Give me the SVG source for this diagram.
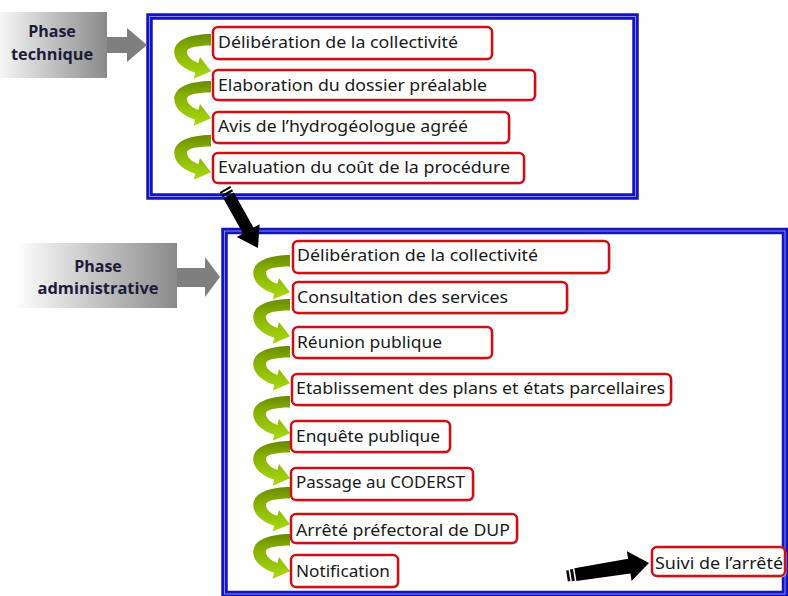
<svg xmlns="http://www.w3.org/2000/svg" xmlns:xlink="http://www.w3.org/1999/xlink" width="788" height="596" viewBox="0 0 788 596">
<style>
.frame{fill:none;stroke:#1414c4;stroke-width:6.5}
.frameIn{fill:none;stroke:#8a8ae6;stroke-width:1}
.box{fill:#ffffff;stroke:#cc1016;stroke-width:2.5}
.shadow{fill:#c8c8c8}
.lbl{font-family:"Noto Sans","Open Sans",sans-serif;font-size:15.5px;font-weight:400;fill:#1a1a1a}
.phase{font-family:"Open Sans","Noto Sans",sans-serif;font-size:16px;font-weight:bold;fill:#1c1c3a;text-anchor:middle}
.garrow{fill:url(#green)}
.barrow{fill:#000000}
.grey{fill:#7f7f7f}
</style>
<defs>
<linearGradient id="green" x1="0" y1="0" x2="0" y2="1">
<stop offset="0" stop-color="#6a8a00"/>
<stop offset="0.3" stop-color="#84ad00"/>
<stop offset="1" stop-color="#a8da12"/>
</linearGradient>
<linearGradient id="phaseT" x1="0" y1="0" x2="1" y2="0">
<stop offset="0" stop-color="#f6f6f6"/>
<stop offset="1" stop-color="#8a8a8a"/>
</linearGradient>
<linearGradient id="phaseA" x1="0" y1="0" x2="1" y2="0">
<stop offset="0" stop-color="#ffffff"/>
<stop offset="1" stop-color="#8a8a8a"/>
</linearGradient>
<path id="gshape" d="M0,0 C-20,0 -35,6 -35,17 C-35,27 -25,34 -15,37 L-16.5,42.5 L0,35.5 L-10.5,22 L-12,27.5 C-18,26 -23,21 -23,17 C-23,13 -14,11 0,11 Z"/>
</defs>
<rect width="788" height="596" fill="#ffffff"/>

<g id="phase-technique">
<rect x="0" y="12" width="107" height="66" fill="url(#phaseT)"/>
<text class="phase" x="52" y="37">Phase</text>
<text class="phase" x="52" y="60" textLength="82" lengthAdjust="spacingAndGlyphs">technique</text>
</g>
<g id="phase-administrative">
<rect x="15" y="243" width="162" height="65" fill="url(#phaseA)"/>
<text class="phase" x="98" y="272">Phase</text>
<text class="phase" x="98" y="294" textLength="121" lengthAdjust="spacingAndGlyphs">administrative</text>
</g>

<g id="frame-technique">
<rect class="frame" x="149.5" y="16.5" width="486" height="180"/>
<rect class="frameIn" x="149.5" y="16.5" width="486" height="180"/>
</g>
<g id="frame-administrative">
<rect class="frame" x="224.5" y="231" width="560.5" height="363"/>
<rect class="frameIn" x="224.5" y="231" width="560.5" height="363"/>
</g>

<g id="connectors">
<polygon class="grey" points="107,37 127,37 127,28 147,45 127,62 127,53 107,53"/>
<polygon class="grey" points="177,268 205,268 205,257 220,277 205,297 205,287 177,287"/>
<use class="garrow" xlink:href="#gshape" transform="translate(211,34) scale(1.05)"/>
<use class="garrow" xlink:href="#gshape" transform="translate(211,81) scale(1.05)"/>
<use class="garrow" xlink:href="#gshape" transform="translate(211,135) scale(1.05)"/>
<use class="garrow" xlink:href="#gshape" transform="translate(290,255) scale(1.05)"/>
<use class="garrow" xlink:href="#gshape" transform="translate(290,299) scale(1.05)"/>
<use class="garrow" xlink:href="#gshape" transform="translate(290,346) scale(1.05)"/>
<use class="garrow" xlink:href="#gshape" transform="translate(290,396) scale(1.05)"/>
<use class="garrow" xlink:href="#gshape" transform="translate(290,441) scale(1.05)"/>
<use class="garrow" xlink:href="#gshape" transform="translate(290,487) scale(1.05)"/>
<use class="garrow" xlink:href="#gshape" transform="translate(290,534) scale(1.05)"/>
</g>

<g id="t1"><rect class="shadow" x="214.5" y="28.5" width="279" height="32" rx="5"/><rect class="box" x="213" y="27" width="279" height="32" rx="5"/><text class="lbl" x="218" y="48" textLength="240" lengthAdjust="spacingAndGlyphs">Délibération de la collectivité</text></g>
<g id="t2"><rect class="shadow" x="214.5" y="71.5" width="322" height="30" rx="5"/><rect class="box" x="213" y="70" width="322" height="30" rx="5"/><text class="lbl" x="218" y="91" textLength="269" lengthAdjust="spacingAndGlyphs">Elaboration du dossier préalable</text></g>
<g id="t3"><rect class="shadow" x="214.5" y="113.5" width="296" height="31" rx="5"/><rect class="box" x="213" y="112" width="296" height="31" rx="5"/><text class="lbl" x="218" y="132" textLength="250" lengthAdjust="spacingAndGlyphs">Avis de l’hydrogéologue agréé</text></g>
<g id="t4"><rect class="shadow" x="214.5" y="154.5" width="311" height="30" rx="5"/><rect class="box" x="213" y="153" width="311" height="30" rx="5"/><text class="lbl" x="218" y="173" textLength="292" lengthAdjust="spacingAndGlyphs">Evaluation du coût de la procédure</text></g>

<g id="a1"><rect class="shadow" x="294.5" y="242.5" width="316" height="32" rx="5"/><rect class="box" x="293" y="241" width="316" height="32" rx="5"/><text class="lbl" x="297" y="261" textLength="241" lengthAdjust="spacingAndGlyphs">Délibération de la collectivité</text></g>
<g id="a2"><rect class="shadow" x="294.5" y="283.5" width="274" height="31" rx="5"/><rect class="box" x="293" y="282" width="274" height="31" rx="5"/><text class="lbl" x="297" y="303" textLength="211" lengthAdjust="spacingAndGlyphs">Consultation  des services</text></g>
<g id="a3"><rect class="shadow" x="294.5" y="328.5" width="199" height="31" rx="5"/><rect class="box" x="293" y="327" width="199" height="31" rx="5"/><text class="lbl" x="297" y="348" textLength="145" lengthAdjust="spacingAndGlyphs">Réunion publique</text></g>
<g id="a4"><rect class="shadow" x="293.5" y="375.5" width="379" height="31" rx="5"/><rect class="box" x="292" y="374" width="379" height="31" rx="5"/><text class="lbl" x="296" y="394" textLength="369" lengthAdjust="spacingAndGlyphs">Etablissement des plans et états parcellaires</text></g>
<g id="a5"><rect class="shadow" x="292.5" y="422.5" width="159" height="31" rx="5"/><rect class="box" x="291" y="421" width="159" height="31" rx="5"/><text class="lbl" x="296" y="442" textLength="144" lengthAdjust="spacingAndGlyphs">Enquête publique</text></g>
<g id="a6"><rect class="shadow" x="292.5" y="469.5" width="182" height="32" rx="5"/><rect class="box" x="291" y="468" width="182" height="32" rx="5"/><text class="lbl" x="296" y="488" textLength="169" lengthAdjust="spacingAndGlyphs">Passage au CODERST</text></g>
<g id="a7"><rect class="shadow" x="292.5" y="515.5" width="226" height="29" rx="5"/><rect class="box" x="291" y="514" width="226" height="29" rx="5"/><text class="lbl" x="296" y="536" textLength="214" lengthAdjust="spacingAndGlyphs">Arrêté préfectoral de DUP</text></g>
<g id="a8"><rect class="shadow" x="292.5" y="556.5" width="107" height="32" rx="5"/><rect class="box" x="291" y="555" width="107" height="32" rx="5"/><text class="lbl" x="296" y="577" textLength="94" lengthAdjust="spacingAndGlyphs">Notification</text></g>
<g id="suivi"><rect class="shadow" x="653.5" y="548.5" width="133" height="29" rx="5"/><rect class="box" x="652" y="547" width="133" height="29" rx="5"/><text class="lbl" x="655" y="569" textLength="128" lengthAdjust="spacingAndGlyphs">Suivi de l’arrêté</text></g>

<g id="black-arrows">
<g transform="translate(225,189) rotate(60.8)">
<rect class="barrow" x="0" y="-6" width="2" height="12"/>
<rect class="barrow" x="3.5" y="-6" width="2.5" height="12"/>
<polygon class="barrow" points="7.5,-6 47.6,-6 47.6,-13 67.6,0 47.6,13 47.6,6 7.5,6"/>
</g>
<g transform="translate(567,576) rotate(-9)">
<rect class="barrow" x="0" y="-5.5" width="2.5" height="11"/>
<rect class="barrow" x="4" y="-6" width="3" height="12"/>
<polygon class="barrow" points="8.5,-6.5 63,-7.5 63,-15 83,0 63,15 63,7.5 8.5,6.5"/>
</g>
</g>
</svg>
